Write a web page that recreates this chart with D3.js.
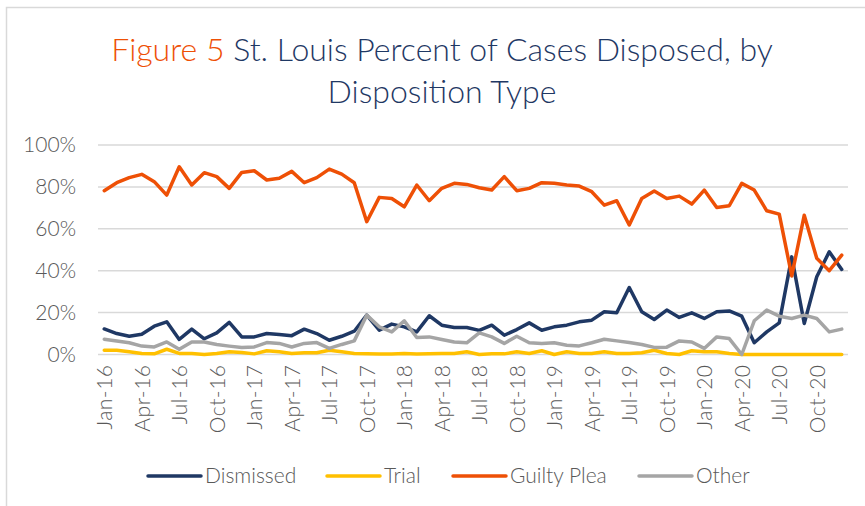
<!DOCTYPE html>
<head>
    <meta charset="utf-8">
    <title>St. Louis Disposition Type</title>
    <script src="https://d3js.org/d3.v7.min.js"></script>
    <style>
        body { margin: 0; background: #fff; }
        text { font-family: Lato, "Open Sans", sans-serif; font-weight: 300; }
    </style>
</head>
<body>
    <div id="container"></div>
    <script>
        //------------------------DATA------------------------//
        var monthNames = ["Jan", "Feb", "Mar", "Apr", "May", "Jun", "Jul", "Aug", "Sep", "Oct", "Nov", "Dec"];
        var months = [];
        [16, 17, 18, 19, 20].forEach(function (yr) {
            monthNames.forEach(function (m) { months.push(m + "-" + yr); });
        });
        var tickLabels = months.filter(function (d, i) { return i % 3 === 0; });

        var dismissed = [12.2, 10.0, 8.7, 9.7, 13.5, 15.6, 7.2, 12.1, 7.5, 10.3, 15.3, 8.4,
            8.4, 10.0, 9.6, 9.0, 12.1, 10.0, 6.8, 8.7, 11.1, 18.8, 11.6, 14.5,
            13.2, 10.8, 18.5, 14.0, 12.9, 12.9, 11.5, 14.0, 9.2, 11.9, 15.1, 11.6,
            13.2, 14.0, 15.6, 16.4, 20.4, 19.9, 32.0, 20.4, 16.7, 21.2, 17.7, 19.9,
            17.2, 20.4, 20.8, 18.3, 5.6, 10.8, 15.1, 46.6, 14.8, 37.1, 49.0, 40.6];
        var trial = [2.0, 2.0, 1.3, 0.5, 0.3, 2.5, 0.5, 0.5, 0.0, 0.5, 1.3, 1.0,
            0.3, 1.8, 1.3, 0.5, 0.8, 0.8, 2.0, 1.3, 0.5, 0.3, 0.2, 0.2,
            0.5, 0.2, 0.3, 0.5, 0.5, 1.3, 0.0, 0.3, 0.3, 1.3, 0.5, 1.8,
            0.0, 1.3, 0.5, 0.5, 1.3, 0.5, 0.5, 0.8, 2.0, 0.5, 0.0, 1.8,
            1.3, 1.3, 0.5, 0.0, 0.0, 0.0, 0.0, 0.0, 0.0, 0.0, 0.0, 0.0];
        var guiltyPlea = [78.2, 82.0, 84.4, 86.0, 82.5, 76.1, 89.6, 80.9, 86.8, 84.9, 79.3, 86.9,
            87.7, 83.3, 84.1, 87.4, 82.0, 84.4, 88.5, 86.1, 82.0, 63.4, 75.0, 74.5,
            70.5, 80.9, 73.4, 79.3, 81.7, 81.2, 79.6, 78.5, 84.9, 78.2, 79.3, 82.0,
            81.7, 80.9, 80.4, 77.7, 71.3, 73.4, 61.8, 74.5, 78.0, 74.5, 75.6, 71.8,
            78.5, 70.2, 71.0, 81.7, 78.5, 68.6, 67.0, 37.5, 66.5, 45.9, 40.0, 47.4];
        var other = [7.3, 6.4, 5.6, 4.0, 3.6, 6.0, 2.5, 6.0, 6.0, 4.8, 4.0, 3.3,
            3.6, 5.7, 5.3, 3.6, 5.3, 5.7, 2.9, 4.8, 6.5, 18.8, 13.2, 10.8,
            16.1, 8.1, 8.4, 7.2, 6.0, 5.6, 10.3, 8.4, 5.3, 8.7, 5.6, 5.3,
            5.6, 4.4, 4.1, 5.6, 7.3, 6.5, 5.7, 4.8, 3.4, 3.5, 6.5, 6.0,
            2.9, 8.4, 7.6, 0.0, 16.1, 21.2, 18.3, 17.2, 18.8, 17.2, 10.8, 12.1];
        var yTicks = [0, 20, 40, 60, 80, 100];

        var series = [
            { name: "Dismissed", values: dismissed, color: "#1F3864" },
            { name: "Trial", values: trial, color: "#FFC000" },
            { name: "Guilty Plea", values: guiltyPlea, color: "#EE5006" },
            { name: "Other", values: other, color: "#A5A5A5" }
        ];

        //------------------------SVG------------------------//
        var width = 865, height = 506;
        var plot = { left: 98, right: 848, top: 145, bottom: 354.5 };

        var svg = d3.select("#container").append("svg")
            .attr("width", width)
            .attr("height", height);

        // chart frame (top and left edges visible)
        svg.append("path")
            .attr("d", "M6.5," + height + " V7.5 H" + width)
            .attr("fill", "none")
            .attr("stroke", "#D9D9D9")
            .attr("stroke-width", 1.5);

        //------------------------TITLE------------------------//
        var title = svg.append("text")
            .attr("x", 442)
            .attr("y", 61)
            .attr("text-anchor", "middle")
            .style("font-size", "32px");
        title.append("tspan").attr("fill", "#EE5006").text("Figure 5 ");
        title.append("tspan").attr("fill", "#1F3864").text("St. Louis Percent of Cases Disposed, by");
        svg.append("text")
            .attr("x", 442)
            .attr("y", 103)
            .attr("text-anchor", "middle")
            .attr("fill", "#1F3864")
            .style("font-size", "32px")
            .text("Disposition Type");

        //------------------------SCALES------------------------//
        var xScale = d3.scalePoint()
            .domain(months)
            .range([plot.left, plot.right])
            .padding(0.5);
        var yScale = d3.scaleLinear()
            .domain([0, 100])
            .range([plot.bottom, plot.top]);

        //------------------------GRID------------------------//
        svg.append("g")
            .selectAll("line")
            .data(yTicks)
            .join("line")
            .attr("x1", plot.left)
            .attr("x2", plot.right)
            .attr("y1", d => yScale(d))
            .attr("y2", d => yScale(d))
            .attr("stroke", "#D9D9D9")
            .attr("stroke-width", 1.5);

        //------------------------AXES------------------------//
        var yAxis = d3.axisLeft(yScale)
            .tickValues(yTicks)
            .tickSize(0)
            .tickPadding(0)
            .tickFormat(d => d + "%");
        svg.append("g")
            .attr("transform", "translate(76,0)")
            .call(yAxis)
            .call(g => g.select(".domain").remove())
            .selectAll("text")
            .attr("fill", "#595959")
            .style("font-size", "21px")
            .style("font-family", "Lato, sans-serif");

        var xAxis = d3.axisBottom(xScale)
            .tickValues(tickLabels)
            .tickSize(0)
            .tickPadding(0);
        svg.append("g")
            .attr("transform", "translate(0," + (plot.bottom + 10) + ")")
            .call(xAxis)
            .call(g => g.select(".domain").remove())
            .selectAll("text")
            .attr("fill", "#595959")
            .style("font-size", "21px")
            .style("font-family", "Lato, sans-serif")
            .style("letter-spacing", "0.5px")
            .attr("text-anchor", "end")
            .attr("transform", "rotate(-90)")
            .attr("x", 0)
            .attr("y", 0)
            .attr("dy", "0.35em");

        //------------------------LINES------------------------//
        var line = d3.line()
            .x((d, i) => xScale(months[i]))
            .y(d => yScale(d));

        svg.append("g")
            .selectAll("path")
            .data(series)
            .join("path")
            .attr("d", d => line(d.values))
            .attr("fill", "none")
            .attr("stroke", d => d.color)
            .attr("stroke-width", 3.5)
            .attr("stroke-linejoin", "round")
            .attr("stroke-linecap", "round");

        //------------------------LEGEND------------------------//
        var legendX = [148, 327, 453, 639];
        var legend = svg.append("g")
            .selectAll("g")
            .data(series)
            .join("g")
            .attr("transform", (d, i) => "translate(" + legendX[i] + ",476)");
        legend.append("line")
            .attr("x1", 0)
            .attr("x2", 53)
            .attr("stroke", d => d.color)
            .attr("stroke-width", 3.5)
            .attr("stroke-linecap", "round");
        legend.append("text")
            .attr("x", 57)
            .attr("dy", "0.35em")
            .attr("fill", "#595959")
            .style("font-size", "21px")
            .text(d => d.name);
    </script>
</body>
